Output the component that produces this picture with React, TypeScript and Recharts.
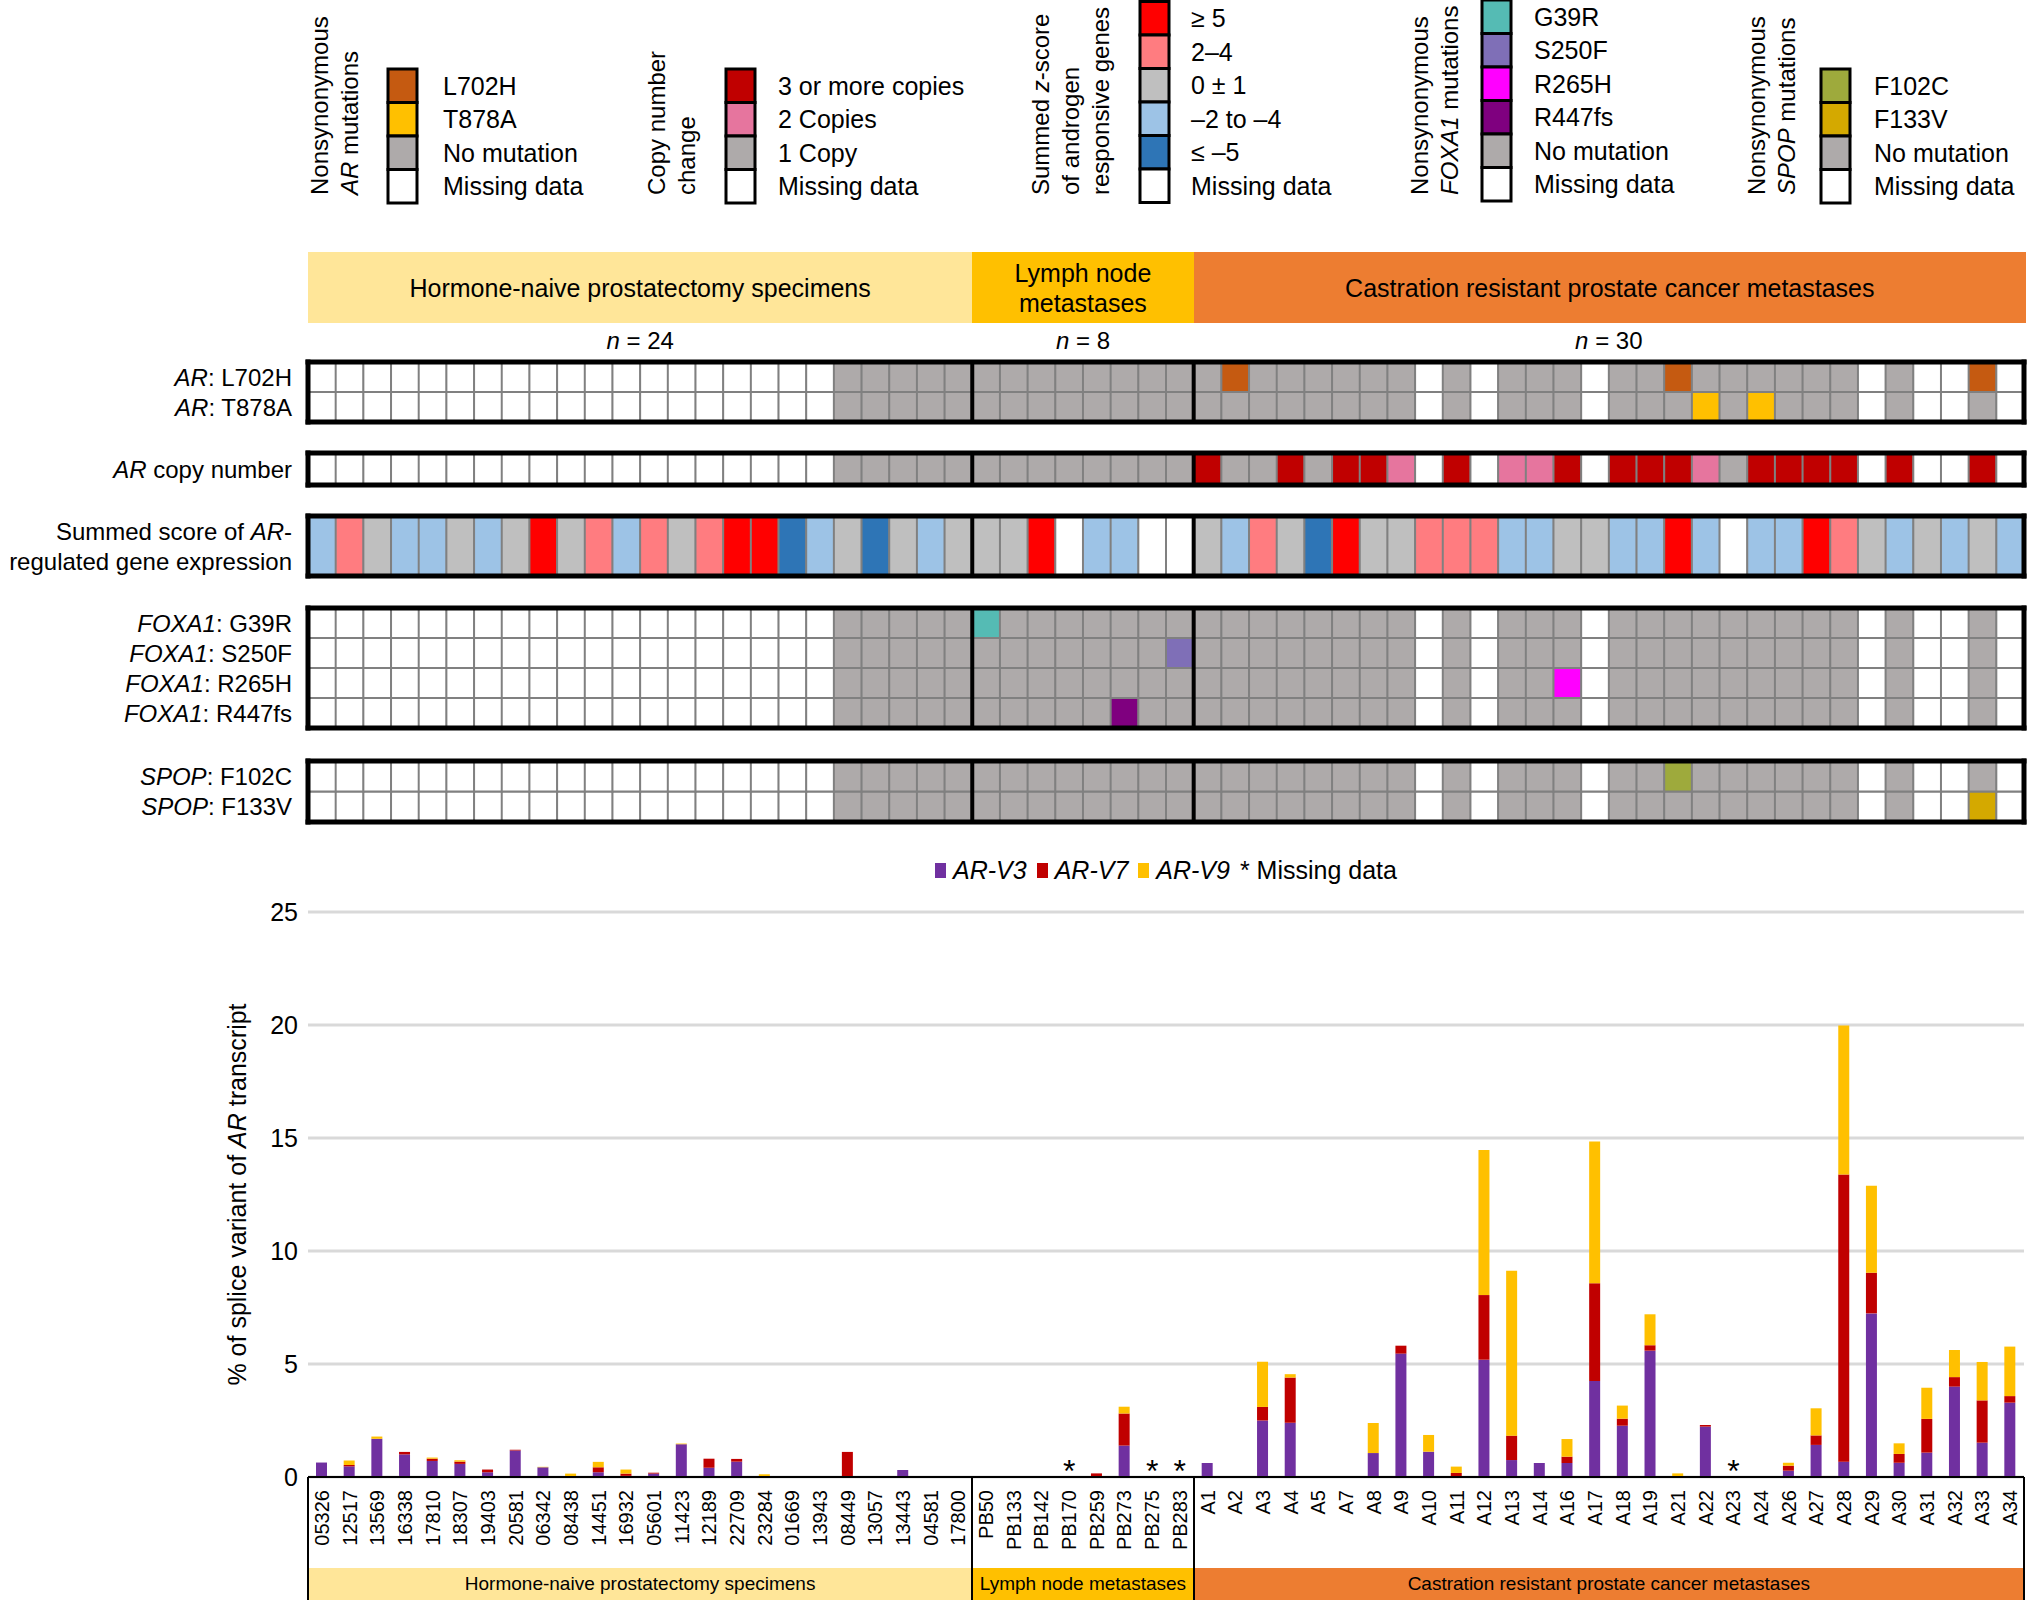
import React from 'react'
import {
  BarChart,
  Bar,
  Cell,
  XAxis,
  YAxis,
  ReferenceLine,
  ComposedChart,
  CartesianGrid,
  Scatter,
} from 'recharts'

const FONT = '"Liberation Sans", Arial, Helvetica, sans-serif'

// samples in plot order
const HN_SAMPLES = ['05326', '12517', '13569', '16338', '17810', '18307', '19403', '20581', '06342', '08438', '14451', '16932', '05601', '11423', '12189', '22709', '23284', '01669', '13943', '08449', '13057', '13443', '04581', '17800']
const LN_SAMPLES = ['PB50', 'PB133', 'PB142', 'PB170', 'PB259', 'PB273', 'PB275', 'PB283']
const CR_SAMPLES = ['A1', 'A2', 'A3', 'A4', 'A5', 'A7', 'A8', 'A9', 'A10', 'A11', 'A12', 'A13', 'A14', 'A16', 'A17', 'A18', 'A19', 'A21', 'A22', 'A23', 'A24', 'A26', 'A27', 'A28', 'A29', 'A30', 'A31', 'A32', 'A33', 'A34']
const SAMPLES = [...HN_SAMPLES, ...LN_SAMPLES, ...CR_SAMPLES]

const GROUP_NAMES = ['Hormone-naive prostatectomy specimens', 'Lymph node metastases', 'Castration resistant prostate cancer metastases']
const GROUP_HEADERS = [['Hormone-naive prostatectomy specimens'], ['Lymph node', 'metastases'], ['Castration resistant prostate cancer metastases']]
const GROUP_SIZES = [HN_SAMPLES.length, LN_SAMPLES.length, CR_SAMPLES.length]
const GROUP_COLORS = ['#FFE699', '#FFC000', '#ED7D31']

// % of splice variant of AR transcript
const AR_V3 = [
  0.64, 0.47, 1.69, 1.0, 0.71, 0.58, 0.21, 1.17, 0.43, 0, 0.21, 0.05, 0.15, 1.45, 0.41, 0.68, 0, 0, 0, 0, 0, 0.31, 0, 0,
  0, 0, 0, 0, 0, 1.39, 0, 0,
  0.62, 0, 2.5, 2.4, 0, 0, 1.06, 5.46, 1.12, 0, 5.19, 0.75, 0.62, 0.62, 4.25, 2.27, 5.59, 0, 2.23, 0, 0, 0.28, 1.42, 0.68, 7.24, 0.63, 1.08, 4.0, 1.52, 3.29,
]
const AR_V7 = [
  0, 0.06, 0, 0.11, 0.1, 0.1, 0.12, 0.04, 0, 0, 0.22, 0.1, 0.04, 0, 0.4, 0.12, 0, 0, 0, 1.11, 0, 0, 0, 0,
  0, 0, 0, 0, 0.16, 1.42, 0, 0,
  0, 0, 0.6, 2.0, 0, 0, 0, 0.35, 0, 0.18, 2.86, 1.08, 0, 0.28, 4.32, 0.31, 0.24, 0, 0.07, 0, 0, 0.22, 0.42, 12.7, 1.8, 0.39, 1.49, 0.42, 1.87, 0.29,
]
const AR_V9 = [
  0, 0.2, 0.1, 0, 0.05, 0.06, 0, 0, 0.02, 0.15, 0.24, 0.18, 0, 0.03, 0, 0, 0.12, 0.03, 0.02, 0, 0, 0, 0, 0,
  0, 0, 0, 0, 0, 0.3, 0, 0,
  0, 0, 2.0, 0.15, 0, 0, 1.33, 0, 0.74, 0.28, 6.42, 7.3, 0, 0.78, 6.28, 0.58, 1.37, 0.16, 0, 0, 0, 0.13, 1.2, 6.6, 3.85, 0.47, 1.38, 1.2, 1.7, 2.19,
]
const MISSING = ['PB170', 'PB275', 'PB283', 'A23']

// heatmap codes, one char per sample: '.' missing data, 'n' no mutation, 'M' mutation
const AR_L702H = '...................nnnnn' + 'nnnnnnnn' + 'nMnnnnnn.n.nnn.nnMnnnnnn.n..M.'
const AR_T878A = '...................nnnnn' + 'nnnnnnnn' + 'nnnnnnnn.n.nnn.nnnMnMnnn.n..n.'
// copy number: '.' missing, '1' 1 copy, '2' 2 copies, '3' 3 or more
const AR_COPY = '...................11111' + '11111111' + '31131332.3.223.333213333.3..3.'
// summed z-score: R >=5, r 2-4, g 0+-1, b -2 to -4, B <=-5, '.' missing
const AR_SCORE = 'brgbbgbgRgrbrgrRRBbgBgbg' + 'ggR.bb..' + 'gbrgBRggrrrbbggbbRb.bbRrgbgbgb'
const FOXA1_G39R = '...................nnnnn' + 'Mnnnnnnn' + 'nnnnnnnn.n.nnn.nnnnnnnnn.n..n.'
const FOXA1_S250F = '...................nnnnn' + 'nnnnnnnM' + 'nnnnnnnn.n.nnn.nnnnnnnnn.n..n.'
const FOXA1_R265H = '...................nnnnn' + 'nnnnnnnn' + 'nnnnnnnn.n.nnM.nnnnnnnnn.n..n.'
const FOXA1_R447FS = '...................nnnnn' + 'nnnnnMnn' + 'nnnnnnnn.n.nnn.nnnnnnnnn.n..n.'
const SPOP_F102C = '...................nnnnn' + 'nnnnnnnn' + 'nnnnnnnn.n.nnn.nnMnnnnnn.n..n.'
const SPOP_F133V = '...................nnnnn' + 'nnnnnnnn' + 'nnnnnnnn.n.nnn.nnnnnnnnn.n..M.'

const GRAY = '#AEAAAA'
const WHITE = '#FFFFFF'

const AR_MUT_LEGEND: [string, string][] = [['#C55A11', 'L702H'], ['#FFC000', 'T878A'], [GRAY, 'No mutation'], [WHITE, 'Missing data']]
const COPY_LEGEND: [string, string][] = [['#C00000', '3 or more copies'], ['#E6759E', '2 Copies'], [GRAY, '1 Copy'], [WHITE, 'Missing data']]
const SCORE_LEGEND: [string, string][] = [['#FF0000', '≥ 5'], ['#FF7C80', '2–4'], ['#BFBFBF', '0 ± 1'], ['#9DC3E6', '–2 to –4'], ['#2E75B6', '≤ –5'], [WHITE, 'Missing data']]
const FOXA1_LEGEND: [string, string][] = [['#55BBB4', 'G39R'], ['#7F6FB7', 'S250F'], ['#FF00FF', 'R265H'], ['#7F007F', 'R447fs'], [GRAY, 'No mutation'], [WHITE, 'Missing data']]
const SPOP_LEGEND: [string, string][] = [['#9EAA3C', 'F102C'], ['#D4A900', 'F133V'], [GRAY, 'No mutation'], [WHITE, 'Missing data']]

const COPY_COLORS: Record<string, string> = { '3': '#C00000', '2': '#E6759E', '1': GRAY, '.': WHITE }
const SCORE_COLORS: Record<string, string> = { R: '#FF0000', r: '#FF7C80', g: '#BFBFBF', b: '#9DC3E6', B: '#2E75B6', '.': WHITE }

const SPLICE_COLORS = { v3: '#7030A0', v7: '#C00000', v9: '#FFC000' }

type Seg = [string, boolean]
type Row = { label: Seg[][]; codes: string; colorOf: (c: string) => string }

const mut = (color: string) => (c: string) => (c === 'M' ? color : c === 'n' ? GRAY : WHITE)

const AR_ROWS: Row[] = [
  { label: [[['AR', true], [': L702H', false]]], codes: AR_L702H, colorOf: mut('#C55A11') },
  { label: [[['AR', true], [': T878A', false]]], codes: AR_T878A, colorOf: mut('#FFC000') },
]
const COPY_ROWS: Row[] = [
  { label: [[['AR', true], [' copy number', false]]], codes: AR_COPY, colorOf: (c) => COPY_COLORS[c] },
]
const SCORE_ROWS: Row[] = [
  {
    label: [[['Summed score of ', false], ['AR', true], ['-', false]], [['regulated gene expression', false]]],
    codes: AR_SCORE,
    colorOf: (c) => SCORE_COLORS[c],
  },
]
const FOXA1_ROWS: Row[] = [
  { label: [[['FOXA1', true], [': G39R', false]]], codes: FOXA1_G39R, colorOf: mut('#55BBB4') },
  { label: [[['FOXA1', true], [': S250F', false]]], codes: FOXA1_S250F, colorOf: mut('#7F6FB7') },
  { label: [[['FOXA1', true], [': R265H', false]]], codes: FOXA1_R265H, colorOf: mut('#FF00FF') },
  { label: [[['FOXA1', true], [': R447fs', false]]], codes: FOXA1_R447FS, colorOf: mut('#7F007F') },
]
const SPOP_ROWS: Row[] = [
  { label: [[['SPOP', true], [': F102C', false]]], codes: SPOP_F102C, colorOf: mut('#9EAA3C') },
  { label: [[['SPOP', true], [': F133V', false]]], codes: SPOP_F133V, colorOf: mut('#D4A900') },
]

const PLOT_LEFT = 308
const PLOT_RIGHT = 2024
const COL_W = (PLOT_RIGHT - PLOT_LEFT) / SAMPLES.length

function groupSpans() {
  let acc = PLOT_LEFT
  return GROUP_SIZES.map((n, i) => {
    const left = acc
    acc += n * COL_W
    return { left, width: n * COL_W, i }
  })
}

function RowLabel({ x, y, payload, rows, n }: any) {
  const k = Math.round(n - 0.5 - payload.value)
  const lines: Seg[][] = rows[k] ? rows[k].label : []
  return (
    <g>
      {lines.map((line, li) => (
        <text
          key={li}
          x={x}
          y={y + (li - (lines.length - 1) / 2) * 30 + 8.5}
          textAnchor="end"
          fontSize={24}
          fontFamily={FONT}
          fill="#000"
        >
          {line.map(([t, it], si) => (
            <tspan key={si} fontStyle={it ? 'italic' : 'normal'}>{t}</tspan>
          ))}
        </text>
      ))}
    </g>
  )
}

function HeatBlock({ top, rowH, rows }: { top: number; rowH: number; rows: Row[] }) {
  const n = rows.length
  const pad = 4
  const data = SAMPLES.map((name) => {
    const d: Record<string, string | number> = { name }
    rows.forEach((_, k) => {
      d['r' + k] = 1
    })
    return d
  })
  const ticks = rows.map((_, k) => n - k - 0.5)
  const order = rows.map((row, k) => ({ row, k })).reverse()
  const frame = { stroke: '#000', strokeWidth: 5, strokeLinecap: 'square' as const }
  return (
    <div style={{ position: 'absolute', left: 0, top: top - pad }}>
      <BarChart
        width={2029}
        height={n * rowH + 2 * pad}
        data={data}
        margin={{ top: pad, right: 2029 - PLOT_RIGHT, bottom: pad, left: 0 }}
        barCategoryGap={0}
        barGap={0}
      >
        <XAxis dataKey="name" hide />
        <YAxis
          type="number"
          domain={[0, n]}
          ticks={ticks}
          interval={0}
          width={PLOT_LEFT}
          tickSize={0}
          tickMargin={16}
          axisLine={false}
          tickLine={false}
          tick={(p: any) => <RowLabel {...p} rows={rows} n={n} />}
        />
        {order.map(({ row, k }) => (
          <Bar key={k} dataKey={'r' + k} stackId="s" isAnimationActive={false}>
            {SAMPLES.map((s, i) => (
              <Cell key={s} fill={row.colorOf(row.codes[i])} stroke="#808080" strokeWidth={2} />
            ))}
          </Bar>
        ))}
        <ReferenceLine x={LN_SAMPLES[0]} position="start" stroke="#000" strokeWidth={4} />
        <ReferenceLine x={CR_SAMPLES[0]} position="start" stroke="#000" strokeWidth={4} />
        <ReferenceLine x={SAMPLES[0]} position="start" {...frame} />
        <ReferenceLine x={SAMPLES[SAMPLES.length - 1]} position="end" {...frame} />
        <ReferenceLine y={0} {...frame} />
        <ReferenceLine y={n} {...frame} />
      </BarChart>
    </div>
  )
}

function SampleTick({ x, y, payload }: any) {
  const ty = y + 13
  return (
    <text
      x={x}
      y={ty}
      transform={`rotate(-90 ${x} ${ty})`}
      textAnchor="end"
      dominantBaseline="central"
      fontSize={20}
      fontFamily={FONT}
      fill="#000"
    >
      {payload.value}
    </text>
  )
}

function YTitle(props: any) {
  const vb = props.viewBox || { x: 0, y: 62, width: PLOT_LEFT, height: 565 }
  const cx = 237
  const cy = vb.y + vb.height / 2
  return (
    <text
      x={cx}
      y={cy}
      transform={`rotate(-90 ${cx} ${cy})`}
      textAnchor="middle"
      dominantBaseline="central"
      fontSize={25}
      fontFamily={FONT}
      fill="#000"
    >
      <tspan>% of splice variant of </tspan>
      <tspan fontStyle="italic">AR</tspan>
      <tspan> transcript</tspan>
    </text>
  )
}

function MissingStar({ cx, cy, payload }: any) {
  if (!payload || !MISSING.includes(payload.name)) return <g />
  return (
    <text x={cx} y={cy + 5} textAnchor="middle" fontSize={32} fontFamily={FONT} fill="#000">
      *
    </text>
  )
}

function SpliceChart() {
  const data = SAMPLES.map((name, i) => ({
    name,
    v3: AR_V3[i],
    v7: AR_V7[i],
    v9: AR_V9[i],
    star: MISSING.includes(name) ? 0 : null,
  }))
  return (
    <div style={{ position: 'absolute', left: 0, top: 850 }}>
      <ComposedChart
        width={2029}
        height={750}
        data={data}
        margin={{ top: 62, right: 2029 - PLOT_RIGHT, bottom: 0, left: 0 }}
      >
        <CartesianGrid vertical={false} stroke="#D9D9D9" strokeWidth={3} />
        <XAxis
          dataKey="name"
          interval={0}
          height={123}
          tickSize={0}
          tickMargin={0}
          tickLine={false}
          axisLine={{ stroke: '#000', strokeWidth: 2 }}
          tick={(p: any) => <SampleTick {...p} />}
        />
        <YAxis
          type="number"
          domain={[0, 25]}
          ticks={[0, 5, 10, 15, 20, 25]}
          width={PLOT_LEFT}
          tickSize={0}
          tickMargin={10}
          axisLine={false}
          tickLine={false}
          tick={{ fontSize: 25, fill: '#000', fontFamily: FONT }}
          label={<YTitle />}
        />
        <Bar dataKey="v3" stackId="v" fill={SPLICE_COLORS.v3} barSize={11} isAnimationActive={false} />
        <Bar dataKey="v7" stackId="v" fill={SPLICE_COLORS.v7} barSize={11} isAnimationActive={false} />
        <Bar dataKey="v9" stackId="v" fill={SPLICE_COLORS.v9} barSize={11} isAnimationActive={false} />
        <Scatter dataKey="star" shape={(p: any) => <MissingStar {...p} />} isAnimationActive={false} />
      </ComposedChart>
    </div>
  )
}

function LegendGroup({ title, titleX, swX, labelX, top, items }: { title: Seg[][]; titleX: number[]; swX: number; labelX: number; top: number; items: [string, string][] }) {
  const h = 33.5
  return (
    <g>
      {title.map((line, li) => (
        <text
          key={li}
          x={titleX[li]}
          y={195}
          transform={`rotate(-90 ${titleX[li]} 195)`}
          fontSize={24}
          fontFamily={FONT}
          fill="#000"
        >
          {line.map(([t, it], si) => (
            <tspan key={si} fontStyle={it ? 'italic' : 'normal'}>{t}</tspan>
          ))}
        </text>
      ))}
      {items.map(([c, l], i) => (
        <g key={l}>
          <rect x={swX} y={top + i * h} width={29} height={h} fill={c} stroke="#000" strokeWidth={3} />
          <text x={labelX} y={top + i * h + h / 2 + 9} fontSize={25} fontFamily={FONT} fill="#000">
            {l}
          </text>
        </g>
      ))}
    </g>
  )
}

function TopLegend() {
  return (
    <svg width={2029} height={210} style={{ position: 'absolute', left: 0, top: 0 }}>
      <LegendGroup
        title={[[['Nonsynonymous', false]], [['AR', true], [' mutations', false]]]}
        titleX={[328, 358]}
        swX={388}
        labelX={443}
        top={69}
        items={AR_MUT_LEGEND}
      />
      <LegendGroup
        title={[[['Copy number', false]], [['change', false]]]}
        titleX={[665, 695]}
        swX={726}
        labelX={778}
        top={69}
        items={COPY_LEGEND}
      />
      <LegendGroup
        title={[[['Summed ', false], ['z', true], ['-score', false]], [['of androgen', false]], [['responsive genes', false]]]}
        titleX={[1049, 1079, 1109]}
        swX={1140}
        labelX={1191}
        top={1.5}
        items={SCORE_LEGEND}
      />
      <LegendGroup
        title={[[['Nonsynonymous', false]], [['FOXA1', true], [' mutations', false]]]}
        titleX={[1428, 1458]}
        swX={1482}
        labelX={1534}
        top={0}
        items={FOXA1_LEGEND}
      />
      <LegendGroup
        title={[[['Nonsynonymous', false]], [['SPOP', true], [' mutations', false]]]}
        titleX={[1765, 1795]}
        swX={1821}
        labelX={1874}
        top={69}
        items={SPOP_LEGEND}
      />
    </svg>
  )
}

function SpliceLegend() {
  const items: [string, string][] = [
    [SPLICE_COLORS.v3, 'AR-V3'],
    [SPLICE_COLORS.v7, 'AR-V7'],
    [SPLICE_COLORS.v9, 'AR-V9'],
  ]
  return (
    <div
      style={{
        position: 'absolute',
        left: PLOT_LEFT,
        width: PLOT_RIGHT - PLOT_LEFT,
        top: 855,
        height: 30,
        display: 'flex',
        alignItems: 'center',
        justifyContent: 'center',
        fontSize: 25,
        gap: 10,
      }}
    >
      {items.map(([c, l]) => (
        <span key={l} style={{ display: 'flex', alignItems: 'center', gap: 7 }}>
          <span style={{ width: 11, height: 15, background: c, display: 'inline-block' }} />
          <i>{l}</i>
        </span>
      ))}
      <span>* Missing data</span>
    </div>
  )
}

export default function App() {
  const spans = groupSpans()
  const bounds = [PLOT_LEFT, ...spans.map((s) => s.left + s.width)]
  return (
    <div
      style={{
        position: 'absolute',
        left: 0,
        top: 0,
        width: 2029,
        height: 1600,
        background: '#fff',
        fontFamily: FONT,
        color: '#000',
        overflow: 'hidden',
      }}
    >
      <TopLegend />

      {spans.map((s) => (
        <div
          key={'h' + s.i}
          style={{
            position: 'absolute',
            left: s.left,
            top: 252,
            width: s.i === 2 ? s.width + 2 : s.width,
            height: 71,
            background: GROUP_COLORS[s.i],
            display: 'flex',
            flexDirection: 'column',
            alignItems: 'center',
            justifyContent: 'center',
            fontSize: 25,
            lineHeight: '30px',
          }}
        >
          {GROUP_HEADERS[s.i].map((t) => (
            <div key={t}>{t}</div>
          ))}
        </div>
      ))}
      {spans.map((s) => (
        <div
          key={'n' + s.i}
          style={{
            position: 'absolute',
            left: s.left,
            top: 326,
            width: s.width,
            height: 30,
            textAlign: 'center',
            fontSize: 24,
            lineHeight: '30px',
          }}
        >
          <i>n</i> = {GROUP_SIZES[s.i]}
        </div>
      ))}

      <HeatBlock top={361.5} rowH={30} rows={AR_ROWS} />
      <HeatBlock top={452.5} rowH={32} rows={COPY_ROWS} />
      <HeatBlock top={515.5} rowH={60} rows={SCORE_ROWS} />
      <HeatBlock top={607.5} rowH={30} rows={FOXA1_ROWS} />
      <HeatBlock top={760.5} rowH={30.5} rows={SPOP_ROWS} />

      <SpliceLegend />
      <SpliceChart />

      {spans.map((s) => (
        <div
          key={'b' + s.i}
          style={{
            position: 'absolute',
            left: s.left,
            top: 1568,
            width: s.width,
            height: 32,
            background: GROUP_COLORS[s.i],
            display: 'flex',
            alignItems: 'center',
            justifyContent: 'center',
            fontSize: 19,
          }}
        >
          {GROUP_NAMES[s.i]}
        </div>
      ))}
      {bounds.map((x) => (
        <div
          key={'l' + x}
          style={{ position: 'absolute', left: x - 1, top: 1477, width: 2, height: 123, background: '#000' }}
        />
      ))}
    </div>
  )
}
